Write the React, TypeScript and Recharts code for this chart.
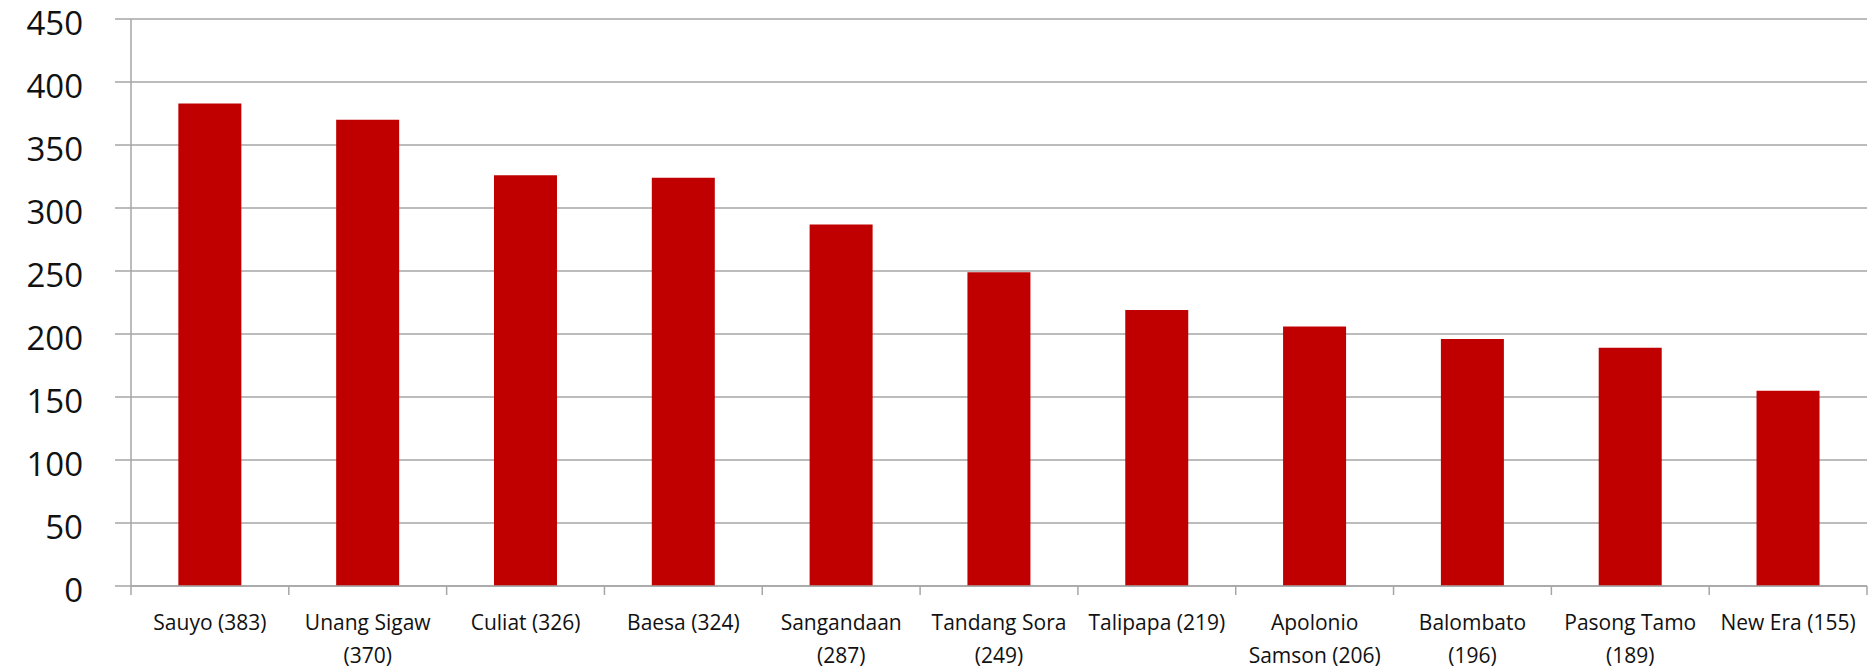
import { BarChart, Bar, XAxis, YAxis, CartesianGrid } from 'recharts';

const barangays = [
  'Sauyo',
  'Unang Sigaw',
  'Culiat',
  'Baesa',
  'Sangandaan',
  'Tandang Sora',
  'Talipapa',
  'Apolonio Samson',
  'Balombato',
  'Pasong Tamo',
  'New Era',
];

const counts = [383, 370, 326, 324, 287, 249, 219, 206, 196, 189, 155];

// how each category label breaks over lines on the axis
const labelLines = [
  ['Sauyo (383)'],
  ['Unang Sigaw', '(370)'],
  ['Culiat (326)'],
  ['Baesa (324)'],
  ['Sangandaan', '(287)'],
  ['Tandang Sora', '(249)'],
  ['Talipapa (219)'],
  ['Apolonio', 'Samson (206)'],
  ['Balombato', '(196)'],
  ['Pasong Tamo', '(189)'],
  ['New Era (155)'],
];

const yTicks = [0, 50, 100, 150, 200, 250, 300, 350, 400, 450];

const data = barangays.map((name, i) => ({ name, count: counts[i], lines: labelLines[i] }));

const AXIS = '#a6a6a6';
const FONT = "'Open Sans', sans-serif";

const CategoryTick = (props: any) => {
  const { x, y, payload, index } = props;
  const half = payload?.offset ?? 0;
  const lines: string[] = labelLines[index] ?? [payload.value];
  const last = index === data.length - 1;
  return (
    <g>
      <line x1={x - half} x2={x - half} y1={y} y2={y + 9} stroke={AXIS} strokeWidth={1.5} />
      {last && <line x1={x + half} x2={x + half} y1={y} y2={y + 9} stroke={AXIS} strokeWidth={1.5} />}
      <text textAnchor="middle" fontFamily={FONT} fontSize={21} fill="#111">
        {lines.map((l, i) => (
          <tspan key={i} x={x} y={y + 44 + i * 33}>
            {l}
          </tspan>
        ))}
      </text>
    </g>
  );
};

const ValueTick = (props: any) => {
  const { x, y, payload } = props;
  return (
    <text x={x} y={y + 4} dy="0.355em" textAnchor="end" fontFamily={FONT} fontSize={33} fill="#111">
      {payload.value}
    </text>
  );
};

export default function App() {
  return (
    <div style={{ position: 'absolute', left: 0, top: 0, background: '#fff' }}>
      <BarChart
        width={1875}
        height={671}
        data={data}
        margin={{ top: 19, right: 8, left: 0, bottom: 0 }}
        barCategoryGap="30%"
      >
        <CartesianGrid vertical={false} stroke={AXIS} strokeWidth={1.5} />
        <XAxis
          dataKey="name"
          height={85}
          tickLine={false}
          tickSize={0}
          tickMargin={0}
          interval={0}
          axisLine={{ stroke: AXIS, strokeWidth: 1.5 }}
          tick={<CategoryTick />}
        />
        <YAxis
          width={131}
          domain={[0, 450]}
          ticks={yTicks}
          interval={0}
          tickSize={16}
          tickMargin={32}
          axisLine={{ stroke: AXIS, strokeWidth: 1.5 }}
          tickLine={{ stroke: AXIS, strokeWidth: 1.5 }}
          tick={<ValueTick />}
        />
        <Bar dataKey="count" fill="#c00000" isAnimationActive={false} />
      </BarChart>
    </div>
  );
}
